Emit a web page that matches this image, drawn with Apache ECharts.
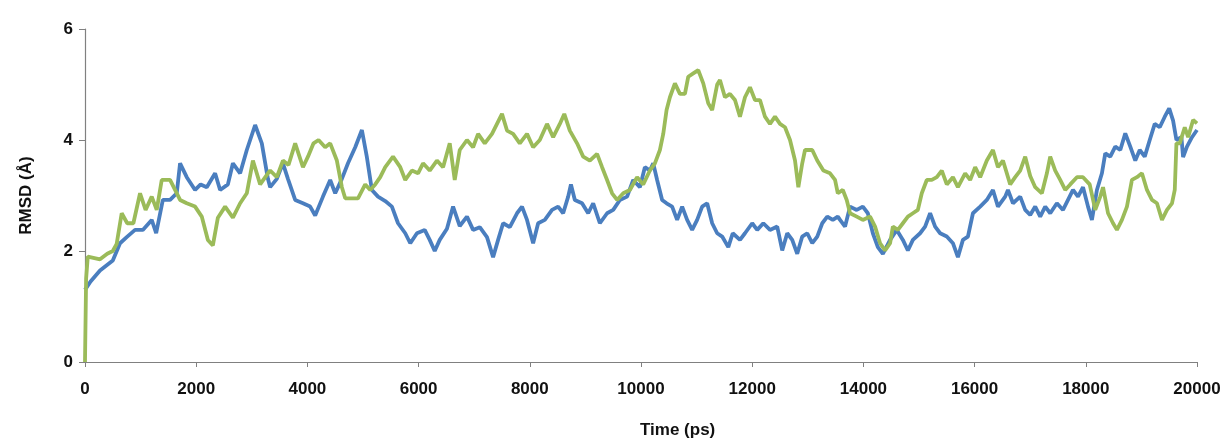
<!DOCTYPE html>
<html>
<head>
<meta charset="utf-8">
<script src="https://cdn.jsdelivr.net/npm/echarts@6/dist/echarts.min.js"></script>
<style>
html,body{margin:0;padding:0;background:#fff;}
#chart{width:1227px;height:444px;}
</style>
</head>
<body>
<div id="chart"></div>
<script>
// Tick labels
const xTicks = [0,2000,4000,6000,8000,10000,12000,14000,16000,18000,20000];
const yTicks = [0,2,4,6];

// Blue series (time in ps, RMSD in Å)
const blueTime = [0,100,270,500,630,750,900,1040,1200,1280,1400,1530,1650,1710,1830,1980,2080,2190,2340,2430,2570,2660,2790,2910,3060,3180,3290,3330,3450,3560,3650,3780,3920,4050,4140,4280,4410,4500,4620,4730,4860,4980,5070,5160,5270,5400,5520,5630,5760,5850,5970,6110,6200,6290,6380,6510,6620,6740,6870,6980,7100,7230,7340,7430,7520,7640,7770,7860,7950,8060,8150,8270,8400,8510,8600,8690,8740,8810,8940,9050,9140,9260,9390,9500,9620,9750,9860,9980,10070,10160,10220,10290,10380,10460,10560,10650,10740,10830,10920,11010,11100,11190,11280,11370,11460,11570,11650,11780,11870,12000,12090,12200,12320,12450,12540,12630,12720,12810,12900,12990,13080,13170,13260,13350,13450,13540,13580,13670,13760,13880,13990,14080,14170,14260,14350,14480,14600,14710,14800,14890,15020,15110,15200,15290,15380,15500,15610,15700,15790,15880,15970,16100,16220,16330,16420,16550,16600,16690,16820,16910,17000,17090,17180,17270,17360,17480,17590,17680,17770,17860,17950,18040,18110,18200,18290,18350,18440,18530,18620,18710,18800,18890,18970,19060,19150,19240,19330,19420,19500,19570,19630,19720,19750,19820,19910,20000];
const blueRmsd = [1.3,1.45,1.65,1.83,2.14,2.25,2.38,2.38,2.56,2.32,2.92,2.92,3.04,3.58,3.33,3.1,3.2,3.15,3.4,3.1,3.2,3.58,3.4,3.82,4.27,3.94,3.3,3.15,3.3,3.58,3.3,2.92,2.86,2.8,2.64,2.98,3.28,3.04,3.3,3.58,3.87,4.18,3.69,3.1,2.98,2.9,2.8,2.5,2.32,2.14,2.32,2.38,2.2,2.0,2.2,2.4,2.8,2.45,2.62,2.38,2.43,2.25,1.89,2.2,2.5,2.43,2.68,2.8,2.56,2.14,2.5,2.56,2.74,2.8,2.68,2.98,3.2,2.92,2.86,2.68,2.86,2.5,2.68,2.74,2.92,2.98,3.28,3.15,3.51,3.45,3.58,3.28,2.92,2.86,2.8,2.56,2.8,2.56,2.38,2.56,2.8,2.86,2.5,2.32,2.26,2.07,2.32,2.2,2.32,2.5,2.38,2.5,2.38,2.44,2.01,2.32,2.2,1.95,2.26,2.32,2.14,2.26,2.5,2.62,2.56,2.62,2.56,2.44,2.8,2.74,2.8,2.68,2.32,2.07,1.95,2.2,2.38,2.2,2.01,2.2,2.32,2.44,2.68,2.44,2.32,2.26,2.14,1.89,2.2,2.26,2.68,2.8,2.92,3.1,2.8,2.98,3.1,2.86,2.98,2.74,2.65,2.8,2.62,2.8,2.68,2.86,2.74,2.92,3.1,2.98,3.15,2.8,2.56,3.1,3.4,3.76,3.7,3.88,3.82,4.12,3.88,3.63,3.82,3.7,4.0,4.29,4.23,4.42,4.57,4.35,4.0,4.05,3.69,3.88,4.05,4.18];

// Green series (time in ps, RMSD in Å)
const greenTime = [0,20,50,270,400,500,570,660,760,870,990,1090,1200,1290,1380,1530,1620,1710,1830,1980,2100,2210,2300,2390,2520,2660,2790,2910,3020,3150,3290,3330,3450,3560,3660,3780,3920,4010,4110,4200,4320,4410,4530,4620,4680,4800,4910,5040,5130,5220,5310,5400,5540,5670,5760,5880,5990,6080,6200,6330,6440,6560,6650,6740,6870,6980,7070,7190,7320,7410,7500,7590,7700,7820,7950,8060,8180,8310,8420,8540,8620,8720,8850,8960,9080,9210,9300,9390,9480,9570,9680,9800,9930,10040,10160,10250,10340,10400,10460,10520,10610,10700,10790,10850,10940,11030,11120,11210,11280,11370,11420,11510,11600,11690,11780,11870,11960,12050,12140,12230,12320,12410,12500,12590,12680,12770,12830,12900,12950,13080,13170,13280,13400,13490,13540,13630,13700,13760,13880,13990,14120,14210,14300,14390,14480,14530,14620,14710,14800,14890,14980,15050,15140,15230,15320,15410,15500,15610,15700,15830,15920,16010,16100,16220,16330,16420,16510,16640,16730,16820,16910,17000,17090,17210,17300,17360,17450,17540,17630,17720,17840,17950,18070,18170,18260,18310,18400,18490,18560,18650,18740,18830,18920,19010,19100,19190,19280,19370,19460,19550,19600,19630,19690,19780,19840,19930,20000];
const greenRmsd = [0,1.5,1.9,1.85,1.95,2.0,2.13,2.68,2.5,2.5,3.04,2.74,2.98,2.74,3.28,3.28,3.1,2.92,2.86,2.8,2.62,2.2,2.1,2.6,2.8,2.6,2.86,3.04,3.63,3.2,3.4,3.45,3.33,3.63,3.55,3.94,3.51,3.7,3.94,4.0,3.87,3.94,3.63,3.15,2.95,2.95,2.95,3.2,3.1,3.2,3.33,3.51,3.7,3.51,3.28,3.45,3.4,3.58,3.45,3.63,3.51,3.94,3.28,3.82,4.0,3.87,4.11,3.94,4.11,4.29,4.47,4.17,4.11,3.94,4.11,3.87,4.0,4.29,4.05,4.29,4.47,4.17,3.94,3.7,3.63,3.75,3.51,3.28,3.04,2.92,3.04,3.1,3.33,3.2,3.45,3.58,3.82,4.11,4.54,4.77,5.02,4.83,4.83,5.14,5.2,5.26,5.02,4.66,4.54,5.0,5.08,4.77,4.83,4.72,4.42,4.77,4.95,4.72,4.72,4.42,4.29,4.42,4.29,4.23,4.0,3.63,3.15,3.58,3.82,3.82,3.63,3.45,3.4,3.28,3.04,3.1,2.92,2.68,2.62,2.56,2.62,2.44,2.14,2.01,2.14,2.44,2.38,2.5,2.62,2.68,2.74,3.04,3.28,3.28,3.33,3.45,3.2,3.33,3.15,3.4,3.28,3.51,3.33,3.63,3.82,3.51,3.63,3.2,3.33,3.45,3.7,3.35,3.15,3.04,3.4,3.7,3.45,3.28,3.1,3.2,3.33,3.33,3.2,2.74,2.98,3.15,2.68,2.5,2.38,2.56,2.8,3.28,3.33,3.4,3.1,2.92,2.86,2.56,2.74,2.86,3.1,3.94,3.94,4.23,4.05,4.36,4.3];

const pairs = (xs, ys) => xs.map((x, i) => [x, ys[i]]);

const chart = echarts.init(document.getElementById('chart'), null, {renderer: 'canvas'});
const FONT = 'Liberation Sans, Arial, sans-serif';
const labelFont = {fontFamily: FONT, fontWeight: 'bold', fontSize: 17, color: '#111'};

chart.setOption({
  animation: false,
  backgroundColor: '#ffffff',
  grid: {left: 85, right: 30, top: 29, bottom: 82, containLabel: false},
  xAxis: {
    type: 'value', min: 0, max: 20000, interval: 2000,
    axisLine: {show: true, lineStyle: {color: '#808080', width: 1.2}},
    axisTick: {show: true, length: 5, inside: false, lineStyle: {color: '#808080'}},
    splitLine: {show: false},
    axisLabel: Object.assign({margin: 19, formatter: v => xTicks.includes(v) ? String(v) : ''}, labelFont)
  },
  yAxis: {
    type: 'value', min: 0, max: 6, interval: 2,
    name: 'RMSD (Å)', nameLocation: 'middle', nameGap: 50, nameRotate: 90,
    nameTextStyle: {fontFamily: FONT, fontWeight: 'bold', fontSize: 17, color: '#111'},
    axisLine: {show: true, lineStyle: {color: '#808080', width: 1.2}},
    axisTick: {show: true, length: 6, lineStyle: {color: '#808080'}},
    splitLine: {show: false},
    axisLabel: Object.assign({margin: 12, formatter: v => yTicks.includes(v) ? String(v) : ''}, labelFont)
  },
  graphic: [{
    type: 'text', left: 640, top: 422,
    style: {text: 'Time (ps)', font: 'bold 17px "Liberation Sans", Arial, sans-serif', fill: '#111'}
  }],
  series: [
    {type: 'line', data: pairs(blueTime, blueRmsd), showSymbol: false, symbol: 'none',
     lineStyle: {color: '#4a7ebf', width: 3.8}, z: 2},
    {type: 'line', data: pairs(greenTime, greenRmsd), showSymbol: false, symbol: 'none',
     lineStyle: {color: '#9bbb59', width: 3.8}, z: 3}
  ]
});
</script>
</body>
</html>
